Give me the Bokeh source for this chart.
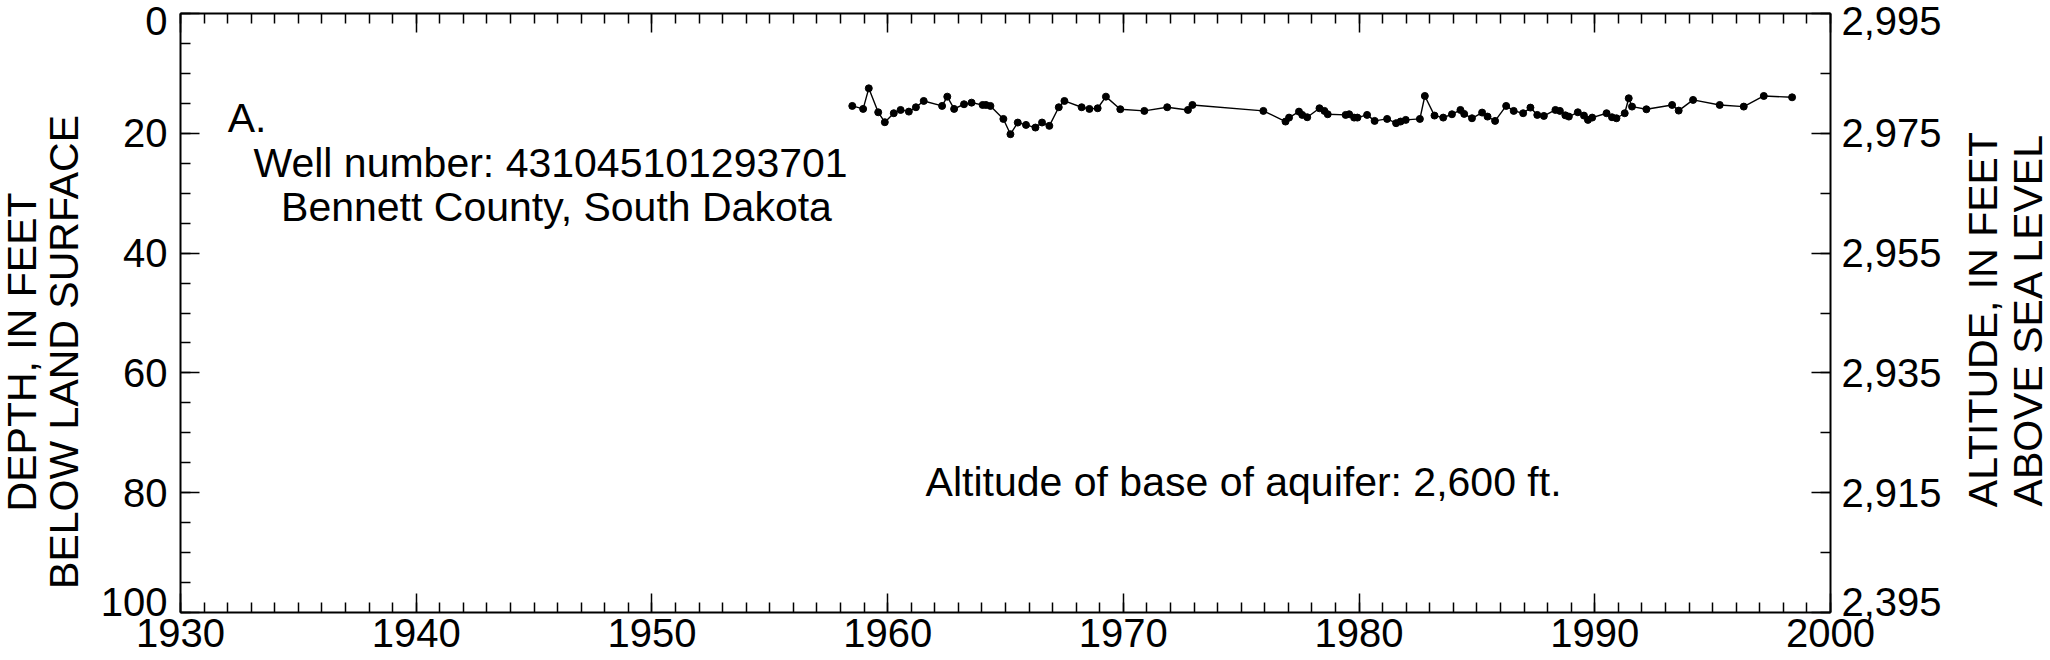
import math
from bokeh.plotting import figure
from bokeh.layouts import row
from bokeh.models import Range1d, LinearAxis, FixedTicker, Label
from bokeh.core.properties import value
from bokeh.embed import file_html
from bokeh.resources import INLINE

# ---------------- data ----------------
years = [1958.50, 1958.96, 1959.20, 1959.60, 1959.88, 1960.26, 1960.55, 1960.90, 1961.20, 1961.53,
         1962.31, 1962.53, 1962.82, 1963.24, 1963.56, 1964.03, 1964.17, 1964.36, 1964.91, 1965.21,
         1965.52, 1965.87, 1966.27, 1966.55, 1966.86, 1967.26, 1967.50, 1968.23, 1968.56, 1968.91,
         1969.26, 1969.87, 1970.89, 1971.86, 1972.74, 1972.93, 1975.94, 1976.88, 1977.03, 1977.45,
         1977.59, 1977.80, 1978.32, 1978.53, 1978.67, 1979.43, 1979.58, 1979.79, 1979.93, 1980.34,
         1980.66, 1981.19, 1981.57, 1981.76, 1981.98, 1982.58, 1982.79, 1983.20, 1983.57, 1983.94,
         1984.30, 1984.46, 1984.79, 1985.22, 1985.45, 1985.77, 1986.24, 1986.56, 1986.96, 1987.27,
         1987.56, 1987.84, 1988.33, 1988.52, 1988.75, 1988.90, 1989.28, 1989.54, 1989.71, 1989.89,
         1990.50, 1990.73, 1990.92, 1991.27, 1991.44, 1991.58, 1992.19, 1993.28, 1993.56, 1994.17,
         1995.30, 1996.32, 1997.17, 1998.37]
depths = [15.43, 15.93, 12.49, 16.49, 18.15, 16.65, 16.10, 16.38, 15.65, 14.60,
          15.43, 13.88, 15.93, 15.15, 14.88, 15.27, 15.27, 15.43, 17.60, 20.15,
          18.21, 18.60, 19.04, 18.20, 18.76, 15.65, 14.60, 15.65, 15.93, 15.82,
          13.88, 15.98, 16.26, 15.65, 16.10, 15.27, 16.26, 18.04, 17.38, 16.38,
          16.93, 17.32, 15.82, 16.26, 16.82, 16.93, 16.82, 17.38, 17.38, 16.93,
          17.93, 17.60, 18.31, 18.04, 17.76, 17.60, 13.77, 17.04, 17.38, 16.82,
          16.10, 16.76, 17.49, 16.54, 17.21, 17.93, 15.43, 16.26, 16.65, 15.71,
          16.93, 17.10, 16.10, 16.26, 17.00, 17.21, 16.49, 17.04, 17.76, 17.38,
          16.65, 17.32, 17.49, 16.65, 14.15, 15.54, 15.99, 15.27, 16.21, 14.43,
          15.27, 15.54, 13.77, 13.99]

year_ticks = [1930, 1940, 1950, 1960, 1970, 1980, 1990, 2000]
year_minor = list(range(1930, 2001))
depth_ticks = [0, 20, 40, 60, 80, 100]
depth_minor_left = list(range(0, 101, 5))
depth_minor_right = list(range(0, 101, 10))
depth_labels = ["0", "20", "40", "60", "80", "100"]
altitude_labels = ["2,995", "2,975", "2,955", "2,935", "2,915", "2,395"]

panel_label = "A."
well_text = "Well number: 431045101293701"
county_text = "Bennett County, South Dakota"
base_text = "Altitude of base of aquifer: 2,600 ft."
left_titles = ["DEPTH, IN FEET", "BELOW LAND SURFACE"]
right_titles = ["ALTITUDE, IN FEET", "ABOVE SEA LEVEL"]

FONT = "Liberation Sans"
TICK_SIZE = "40px"
TEXT_SIZE = "41px"

# label anchor positions on the depth axes (end labels nudged inside, as in the reference)
label_pos = [1.3, 20, 40, 60, 80, 98.3]

H = 660
WL, WR = 92, 102                # side strips holding the axis titles
FRAME_L, FRAME_R = 180, 1830    # frame edges on the page
WM = 2050 - WL - WR
BORDER_R = WL + WM - FRAME_R
TOP, BOTTOM = 13, 48

yrange = Range1d(100, 0)

fig = figure(width=WM, height=H, output_backend="svg", toolbar_location=None,
             x_range=Range1d(1930, 2000), y_range=yrange,
             min_border_left=FRAME_L - WL, min_border_right=BORDER_R,
             min_border_top=TOP, min_border_bottom=BOTTOM)
fig.background_fill_color = "white"
fig.border_fill_color = "white"
fig.outline_line_color = None
fig.xgrid.visible = False
fig.ygrid.visible = False


def ticks_only(ax, ticks, minor):
    ax.ticker = FixedTicker(ticks=ticks, minor_ticks=minor)
    ax.axis_line_color = "black"
    ax.axis_line_width = 2
    ax.major_tick_line_color = "black"
    ax.major_tick_line_width = 1.5
    ax.minor_tick_line_color = "black"
    ax.minor_tick_line_width = 1.5
    ax.major_tick_in = 19
    ax.major_tick_out = 0
    ax.minor_tick_in = 10
    ax.minor_tick_out = 0
    ax.major_label_text_font = FONT
    ax.major_label_text_font_size = TICK_SIZE
    ax.major_label_text_color = "black"


def labels_only(ax, labels, standoff):
    ax.ticker = FixedTicker(ticks=label_pos, minor_ticks=[])
    ax.major_label_overrides = {t: s for t, s in zip(label_pos, labels)}
    ax.axis_line_color = None
    ax.major_tick_line_color = None
    ax.minor_tick_line_color = None
    ax.major_tick_in = 0
    ax.major_tick_out = 0
    ax.minor_tick_in = 0
    ax.minor_tick_out = 0
    ax.major_label_standoff = standoff
    ax.major_label_text_font = FONT
    ax.major_label_text_font_size = TICK_SIZE
    ax.major_label_text_color = "black"


def hide_labels(ax):
    ax.major_label_text_color = None
    ax.major_label_text_font_size = "1px"
    ax.major_label_standoff = 0


# bottom axis
xb = fig.xaxis[0]
ticks_only(xb, year_ticks, year_minor)
xb.major_label_standoff = 6

# top axis (tick marks only)
xt = LinearAxis()
ticks_only(xt, year_ticks, year_minor)
hide_labels(xt)
fig.add_layout(xt, "above")

# left axis: tick marks, then labels
yl = fig.yaxis[0]
ticks_only(yl, depth_ticks, depth_minor_left)
hide_labels(yl)
yl_lab = LinearAxis()
labels_only(yl_lab, depth_labels, 13)
fig.add_layout(yl_lab, "left")

# right axis: tick marks, then labels
yr = LinearAxis()
ticks_only(yr, depth_ticks, depth_minor_right)
hide_labels(yr)
fig.add_layout(yr, "right")
yr_lab = LinearAxis()
labels_only(yr_lab, altitude_labels, 11)
fig.add_layout(yr_lab, "right")

# data
fig.line(years, depths, line_color="black", line_width=1.4)
fig.scatter(years, depths, size=7, color="black")

# text annotations inside the plot
for (x, y, txt, align) in [(1932.0, 17.4, panel_label, "left"),
                           (1945.7, 24.9, well_text, "center"),
                           (1945.95, 32.3, county_text, "center"),
                           (1975.1, 78.2, base_text, "center")]:
    fig.add_layout(Label(x=x, y=y, text=txt, text_align=align, text_baseline="alphabetic",
                         text_font=FONT, text_font_size=TEXT_SIZE, text_color="black"))


def title_strip(width, xs, yc, texts):
    s = figure(width=width, height=H, output_backend="svg", toolbar_location=None,
               x_range=Range1d(0, width), y_range=yrange,
               x_axis_type=None, y_axis_type=None,
               min_border_left=0, min_border_right=0,
               min_border_top=TOP, min_border_bottom=BOTTOM)
    s.background_fill_color = "white"
    s.border_fill_color = "white"
    s.outline_line_color = None
    s.text(x=xs, y=[yc] * len(xs), text=texts, angle=math.pi / 2,
           text_align="center", text_baseline="alphabetic",
           text_font=value(FONT), text_font_size=value(TEXT_SIZE), text_color="black")
    return s


p_left = title_strip(WL, [21, 63], 56.5, left_titles)
p_right = title_strip(WR, [1982 - (WL + WM), 2027 - (WL + WM)], 51.1, right_titles)

p = row(p_left, fig, p_right)

open("out.html", "w").write(file_html(p, INLINE))
